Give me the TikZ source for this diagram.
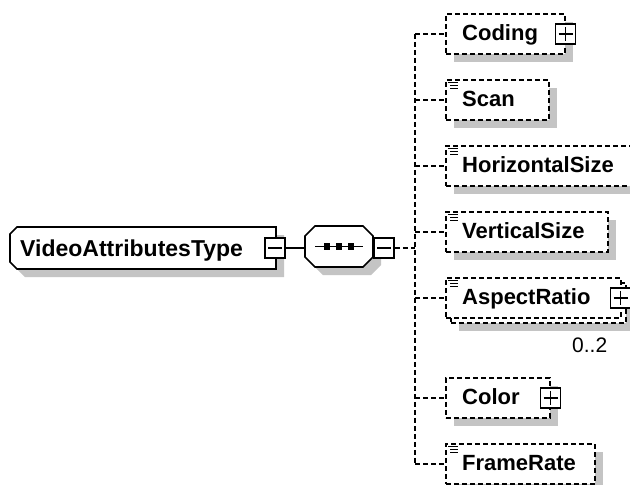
\documentclass[tikz,border=0pt]{standalone}
\usepackage{fontspec}
\setmainfont{Liberation Sans}
\usetikzlibrary{shadows}
\definecolor{shd}{RGB}{196,196,196}
\begin{document}
\begin{tikzpicture}[x=1pt,y=-1pt,
  lw/.style={line width=1.6pt},
  elem/.style={draw, lw, dash pattern=on 5pt off 3pt, fill=white, rectangle, inner sep=0pt, minimum height=40pt, anchor=north west},
  shad/.style={drop shadow={shadow xshift=8pt, shadow yshift=-8pt, fill=shd, opacity=1}},
  lbl/.style={font=\bfseries\fontsize{22}{26}\selectfont, inner sep=0pt, anchor=base west},
  conn/.style={lw, dash pattern=on 5pt off 3pt},
  sbox/.style={draw, lw, fill=white, rectangle, minimum width=20pt, minimum height=20pt, inner sep=0pt},
  minusbox/.style={sbox, path picture={\draw[lw] ([xshift=3pt]path picture bounding box.west) -- ([xshift=-3pt]path picture bounding box.east);}},
  plusbox/.style={sbox, path picture={\draw[lw] ([xshift=3pt]path picture bounding box.west) -- ([xshift=-3pt]path picture bounding box.east) ([yshift=-3pt]path picture bounding box.north) -- ([yshift=3pt]path picture bounding box.south);}},
  icon/.style={line width=0.8pt}
]
\useasboundingbox (0,0) rectangle (630,485);
\fill[white] (0,0) rectangle (630,485);
\clip (0,0) rectangle (630,485);

% root
\fill[shd] (25,235) -- (284,235) -- (284,277) -- (25,277) -- (18,270) -- (18,242) -- cycle;
\filldraw[lw, fill=white] (17,227) -- (276,227) -- (276,269) -- (17,269) -- (10,262) -- (10,234) -- cycle;
\node[inner sep=0pt, minimum width=266pt, minimum height=42pt, anchor=north west] (root) at (10,227) {};
\node[lbl, font=\bfseries\fontsize{23}{27}\selectfont] (rootl) at (20,256) {VideoAttributesType};
\node[minusbox] (rootm) at (275,248) {};

% sequence
\fill[shd] (323,234) -- (371,234) -- (381,244) -- (381,265) -- (371,275) -- (323,275) -- (313,265) -- (313,244) -- cycle;
\filldraw[lw, fill=white] (315,226) -- (363,226) -- (373,236) -- (373,257) -- (363,267) -- (315,267) -- (305,257) -- (305,236) -- cycle;
\node[inner sep=0pt, minimum width=68pt, minimum height=41pt] (seq) at (339,246.5) {};
\draw[lw] ([xshift=-24pt]seq.center) -- ([xshift=24pt]seq.center);
\foreach \dx in {-12,0,12}
  \fill ([xshift=\dx pt]seq.center) +(-3.2,-3.2) rectangle +(3.2,3.2);
\node[minusbox] (seqm) at (384,248) {};
\draw[lw] (rootm.east) -- (seqm.west -| seq.west);

% elements
\node[elem, shad, minimum width=119pt] (coding) at (445,13) {};
\node[elem, shad, minimum width=103pt] (scan) at (445,79) {};
\node[elem, shad, minimum width=190pt] (hs) at (445,145) {};
\node[elem, shad, minimum width=162pt] (vs) at (445,211) {};
\node[elem, shad, minimum width=175pt] (ar2) at (450,282) {};
\node[elem, minimum width=175pt] (ar) at (445,277) {};
\node[elem, shad, minimum width=104pt] (color) at (445,377) {};
\node[elem, shad, minimum width=149pt] (fr) at (445,443) {};

\node[plusbox] (codingp) at (coding.east) {};
\node[plusbox] (arp) at ([xshift=-1pt]ar.east) {};
\node[plusbox] (colorp) at (color.east) {};

\foreach \n in {scan,hs,vs,ar,fr}
  \draw[icon] ([shift={(3,3)}]\n.north west) -- ++(10,0)
              ([shift={(5,6)}]\n.north west) -- ++(8,0)
              ([shift={(5,9)}]\n.north west) -- ++(8,0);

\node[lbl] (codingl) at (462,40) {Coding};
\node[lbl] (scanl) at (462,106) {Scan};
\node[lbl] (hsl) at (462,172) {HorizontalSize};
\node[lbl] (vsl) at (462,238) {VerticalSize};
\node[lbl] (arl) at (462,304) {AspectRatio};
\node[lbl] (colorl) at (462,404) {Color};
\node[lbl] (frl) at (462,470) {FrameRate};
\node[font=\fontsize{21}{25}\selectfont, inner sep=0pt, anchor=base west] (card) at (572,352) {0..2};

% connectors
\coordinate (bus) at (415,248);
\draw[conn] (seqm.east) -- (bus);
\draw[conn] (bus |- coding.west) -- (bus |- fr.west);
\foreach \n in {coding,scan,hs,vs,ar,color,fr}
  \draw[conn] (bus |- \n.west) -- (\n.west);
\end{tikzpicture}
\end{document}
